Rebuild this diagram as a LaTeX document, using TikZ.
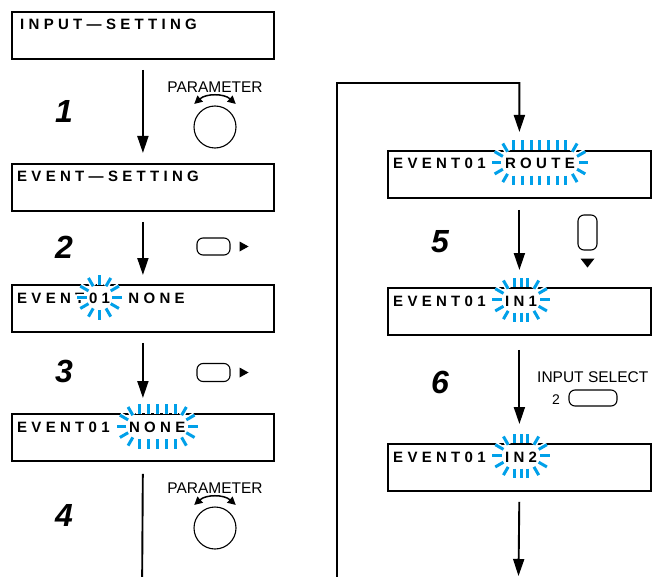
\documentclass[tikz,border=0pt]{standalone}
\usepackage{fontspec}
\setmainfont{Liberation Sans}
\usetikzlibrary{arrows.meta}
\definecolor{blinkc}{RGB}{0,160,233}
\newdimen\lcdtrack \lcdtrack=4.3bp
\def\lcd#1{\lcdfirst#1\relax}
\def\lcdfirst#1{#1\lcdloop}
\def\lcdloop#1{\ifx\relax#1\else\kern\lcdtrack #1\expandafter\lcdloop\fi}
\newcommand\blink[3]{%
 \foreach \lw/\cl in {6bp/white,3bp/blinkc}{
  \foreach \xx in {#3}{
   \draw[line width=\lw,color=\cl] ([xshift=\xx bp,yshift=19bp]#1.base) -- ++(0,-9.5);
   \draw[line width=\lw,color=\cl] ([xshift=\xx bp,yshift=-6.5bp]#1.base) -- ++(0,9.5);
  }
  \foreach \aa in {-60,-30,0,30,60}{
   \draw[line width=\lw,color=\cl] ([xshift=#2bp,yshift=6.2bp]#1.base) ++(\aa:12.8) -- ++(\aa:9.5);
   \draw[line width=\lw,color=\cl] ([xshift=-#2bp,yshift=6.2bp]#1.base) ++(180+\aa:12.8) -- ++(180+\aa:9.5);
  }
 }}
\tikzset{
 lcdbox/.style={draw, line width=1.8bp, minimum width=262bp, minimum height=47bp, inner sep=0pt, anchor=north west},
 lcdtxt/.style={inner sep=0pt, anchor=base west, font=\fontsize{15bp}{17bp}\selectfont\bfseries},
 steplbl/.style={font=\fontsize{32bp}{32bp}\selectfont\bfseries\itshape, inner sep=0pt},
 lbl/.style={font=\fontsize{15.5bp}{18bp}\selectfont, inner sep=0pt},
 arr/.style={line width=1.9bp, -{Triangle[length=17bp,width=11bp]}},
 btn/.style={draw, line width=1.1bp, rounded corners=6bp, inner sep=0pt},
 knob/.style={draw, circle, line width=1.1bp, minimum size=42bp, inner sep=0pt},
 turn/.style={line width=1.5bp, {Triangle[length=8bp,width=8bp]}-{Triangle[length=8bp,width=8bp]}},
}
\begin{document}
\begin{tikzpicture}[x=1bp,y=-1bp]
\useasboundingbox (0,0) rectangle (659,577);
\fill[white] (0,0) rectangle (659,577);
\clip (0,0) rectangle (659,577);
% left column boxes
\node[lcdbox] (b1) at (11,11) {};
\node[lcdtxt] (t1) at ([xshift=9bp,yshift=-19bp]b1.north west) {\lcd{INPUT—SETTING}};
\node[lcdbox] (b2) at (11,163) {};
\node[lcdtxt] (t2) at ([xshift=6bp,yshift=-19bp]b2.north west) {\lcd{EVENT—SETTING}};
\node[lcdbox] (b3) at (11,284) {};
\node[lcdtxt] (t3a) at ([xshift=6bp,yshift=-19.5bp]b3.north west) {\lcd{EVENT}};
\node[lcdtxt] (t3b) at ([xshift=4.3bp]t3a.base east) {\lcd{01}};
\node[lcdtxt] (t3c) at ([xshift=18bp]t3b.base east) {\lcd{NONE}};
\node[lcdbox] (b4) at (11,413) {};
\node[lcdtxt] (t4a) at ([xshift=6bp,yshift=-19.5bp]b4.north west) {\lcd{EVENT01}};
\node[lcdtxt] (t4b) at ([xshift=19bp]t4a.base east) {\lcd{NONE}};
% right column boxes
\node[lcdbox, minimum width=263bp] (b5) at (387,150) {};
\node[lcdtxt] (t5a) at ([xshift=6bp,yshift=-19bp]b5.north west) {\lcd{EVENT01}};
\node[lcdtxt] (t5b) at ([xshift=19bp]t5a.base east) {\lcd{ROUTE}};
\node[lcdbox, minimum width=263bp] (b6) at (387,287) {};
\node[lcdtxt] (t6a) at ([xshift=6bp,yshift=-19bp]b6.north west) {\lcd{EVENT01}};
\node[lcdtxt] (t6b) at ([xshift=19bp]t6a.base east) {\lcd{IN1}};
\node[lcdbox, minimum width=263bp] (b7) at (387,443) {};
\node[lcdtxt] (t7a) at ([xshift=6bp,yshift=-19bp]b7.north west) {\lcd{EVENT01}};
\node[lcdtxt] (t7b) at ([xshift=19bp]t7a.base east) {\lcd{IN2}};
% blinking marks
\blink{t3b}{0}{0}
\blink{t4b}{18}{-18,-9,0,9,18}
\blink{t5b}{26}{-26,-17.3,-8.7,0,8.7,17.3,26}
\blink{t6b}{6.5}{-6.5,0,6.5}
\blink{t7b}{6.5}{-6.5,0,6.5}
% step numbers
\node[steplbl] (s1) at (64,111.5) {1};
\node[steplbl] (s2) at (64,247.5) {2};
\node[steplbl] (s3) at (64,371) {3};
\node[steplbl] (s4) at (64,515) {4};
\node[steplbl] (s5) at (440,241.5) {5};
\node[steplbl] (s6) at (440,382.5) {6};
% controls
\node[lbl, anchor=base] (p1) at (215,92.5) {PARAMETER};
\node[knob] (k1) at (215,127) {};
\draw[turn] ([shift={(-132:31)}]k1.center) arc[start angle=-132, end angle=-48, radius=31];
\node[lbl, anchor=base] (p2) at (215,493.5) {PARAMETER};
\node[knob] (k2) at (215,528) {};
\draw[turn] ([shift={(-132:31)}]k2.center) arc[start angle=-132, end angle=-48, radius=31];
\node[btn, minimum width=33bp, minimum height=17bp] (bt2) at (213.5,246.5) {};
\fill ([xshift=9bp,yshift=5bp]bt2.east) -- ++(9,5) -- ++(-9,5) -- cycle;
\node[btn, minimum width=33bp, minimum height=18bp] (bt3) at (213.5,372.5) {};
\fill ([xshift=9bp,yshift=5bp]bt3.east) -- ++(9,5) -- ++(-9,5) -- cycle;
\node[btn, minimum width=19bp, minimum height=35bp] (bt5) at (587.5,232.5) {};
\fill ([xshift=-7bp,yshift=-8bp]bt5.south) -- ++(14,0) -- ++(-7,9) -- cycle;
\node[lbl, anchor=base west] (is) at (537,382) {INPUT SELECT};
\node[font=\fontsize{14bp}{14bp}\selectfont, inner sep=0pt, anchor=base] (n2) at (556,404) {2};
\node[btn, minimum width=48bp, minimum height=16bp] (bt6) at (593,398) {};
% connectors
\coordinate (lowL) at (142,600);
\coordinate (lowR) at (337,600);
\coordinate (topR) at (337,83);
\coordinate (end7) at (518.5,576);
\draw[arr, shorten <=10bp, shorten >=10bp] (b1.south) -- (b2.north);
\draw[arr, shorten <=10bp, shorten >=9bp] (b2.south) -- (b3.north);
\draw[arr, shorten <=10bp, shorten >=15bp] (b3.south) -- (b4.north);
\draw[arr, shorten <=12bp, shorten >=18bp] (b4.south) -- (lowL) -- (lowR) -- (topR) -| (b5.north);
\draw[arr, shorten <=11bp, shorten >=17bp] (b5.south) -- (b6.north);
\draw[arr, shorten <=14bp, shorten >=19bp] (b6.south) -- (b7.north);
\draw[arr, shorten <=10bp] (b7.south) -- (end7);
\end{tikzpicture}
\end{document}
